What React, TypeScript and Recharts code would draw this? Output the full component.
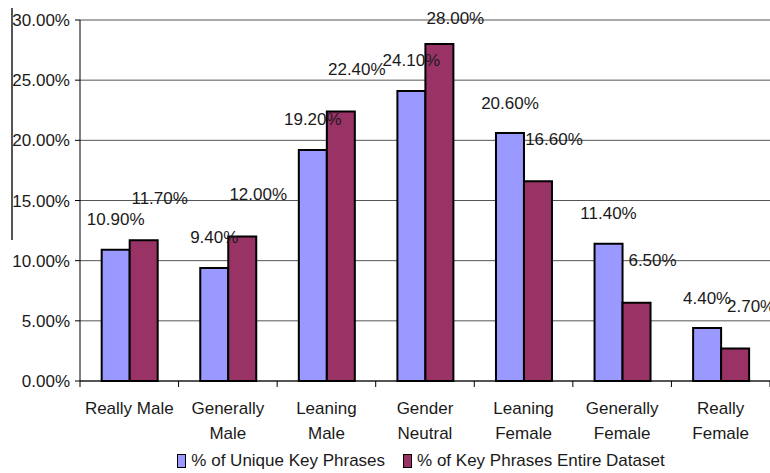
import React from 'react';
import { BarChart, Bar, XAxis, YAxis, CartesianGrid, Legend, LabelList, Text } from 'recharts';

const categories = [
  'Really Male',
  'Generally Male',
  'Leaning Male',
  'Gender Neutral',
  'Leaning Female',
  'Generally Female',
  'Really Female',
];
const uniquePhrases = [10.9, 9.4, 19.2, 24.1, 20.6, 11.4, 4.4];
const entireDataset = [11.7, 12.0, 22.4, 28.0, 16.6, 6.5, 2.7];
const yTicks = [0, 5, 10, 15, 20, 25, 30];

const seriesNames = ['% of Unique Key Phrases', '% of Key Phrases Entire Dataset'];
const seriesColors = ['#9999FF', '#993366'];

const data = categories.map((name, i) => ({
  name,
  unique: uniquePhrases[i],
  entire: entireDataset[i],
}));

const W = 770;
const H = 473;
const LEFT = 80;
const FONT = '"Liberation Sans", Arial, sans-serif';
const FS = 17;
const TEXT = '#1a1a1a';
const bandWidth = (W - LEFT) / categories.length;

const fmt = (v: number) => v.toFixed(2) + '%';

const CategoryTick = (props: any) => {
  const { x, y, payload, index } = props;
  const half = bandWidth / 2;
  return (
    <g>
      <line x1={x - half} x2={x - half} y1={y} y2={y + 6} stroke="#000" />
      {index === categories.length - 1 && (
        <line x1={x + half} x2={x + half} y1={y} y2={y + 6} stroke="#000" />
      )}
      <Text
        x={x}
        y={y + 21}
        width={96}
        textAnchor="middle"
        verticalAnchor="start"
        lineHeight={25}
        fill={TEXT}
        style={{ fontSize: FS, fontFamily: FONT }}
      >
        {payload.value}
      </Text>
    </g>
  );
};

// labels sit above the bars; the second series is nudged up and right like the original
const valueLabel = (dx: number, lift: number) => (props: any) => {
  const { x, y, width, value } = props;
  return (
    <text
      x={x + width / 2 + dx}
      y={Math.max(y - lift, 18)}
      textAnchor="middle"
      dominantBaseline="central"
      fill={TEXT}
      style={{ fontSize: FS, fontFamily: FONT }}
    >
      {fmt(value)}
    </text>
  );
};

const LegendBox = () => (
  <div
    style={{
      display: 'flex',
      justifyContent: 'center',
      alignItems: 'center',
      height: 27,
      paddingTop: 3,
      paddingLeft: 72,
      boxSizing: 'border-box',
      fontFamily: FONT,
      fontSize: FS,
      color: TEXT,
    }}
  >
    {seriesNames.map((n, i) => (
      <div key={n} style={{ display: 'flex', alignItems: 'center', marginRight: i === 0 ? 18 : 0 }}>
        <span
          style={{
            display: 'inline-block',
            width: 7,
            height: 12,
            background: seriesColors[i],
            border: '1.5px solid #000',
            marginRight: 5,
          }}
        />
        <span>{n}</span>
      </div>
    ))}
  </div>
);

export default function App() {
  return (
    <div style={{ position: 'absolute', left: 0, top: 0, width: W, height: H, background: '#fff', overflow: 'hidden' }}>
      <div style={{ position: 'absolute', left: 11, top: 8, width: 1.5, height: 232, background: '#555' }} />
      <BarChart
        width={W}
        height={H}
        data={data}
        margin={{ top: 20, right: 0, left: 0, bottom: 0 }}
        barCategoryGap="22%"
        barGap={0}
      >
        <CartesianGrid vertical={false} stroke="#555" />
        <XAxis
          dataKey="name"
          height={65}
          tickSize={0}
          tickMargin={0}
          axisLine={{ stroke: '#000' }}
          tickLine={false}
          tick={<CategoryTick />}
          interval={0}
        />
        <YAxis
          width={LEFT}
          domain={[0, 30]}
          ticks={yTicks}
          tickFormatter={fmt}
          axisLine={{ stroke: '#000' }}
          tickLine={{ stroke: '#000' }}
          tickSize={5}
          tickMargin={5}
          tick={{ fill: TEXT, fontSize: FS, fontFamily: FONT }}
        />
        <Legend verticalAlign="bottom" height={27} content={<LegendBox />} />
        <Bar dataKey="unique" fill={seriesColors[0]} stroke="#000" strokeWidth={2} isAnimationActive={false}>
          <LabelList dataKey="unique" content={valueLabel(0, 30)} />
        </Bar>
        <Bar dataKey="entire" fill={seriesColors[1]} stroke="#000" strokeWidth={2} isAnimationActive={false}>
          <LabelList dataKey="entire" content={valueLabel(16, 42)} />
        </Bar>
      </BarChart>
    </div>
  );
}
